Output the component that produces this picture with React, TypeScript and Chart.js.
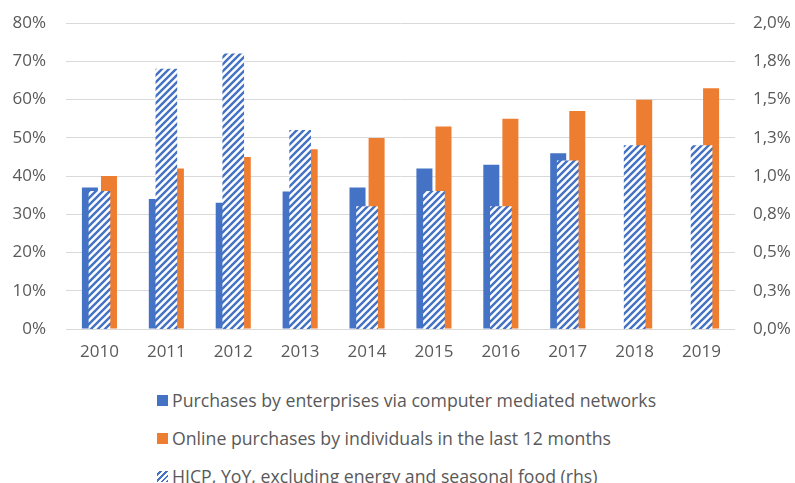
import React, { useEffect, useRef } from "react";
import { Chart, registerables } from "chart.js";

Chart.register(...registerables);

const years = ["2010", "2011", "2012", "2013", "2014", "2015", "2016", "2017", "2018", "2019"];
const enterprises = [37, 34, 33, 36, 37, 42, 43, 46, null, null];
const individuals = [40, 42, 45, 47, 50, 53, 55, 57, 60, 63];
const hicp = [0.9, 1.7, 1.8, 1.3, 0.8, 0.9, 0.8, 1.1, 1.2, 1.2];
const leftTickLabels = ["0%", "10%", "20%", "30%", "40%", "50%", "60%", "70%", "80%"];
const rightTickLabels = ["0,0%", "0,3%", "0,5%", "0,8%", "1,0%", "1,3%", "1,5%", "1,8%", "2,0%"];
const legendLabels = [
  "Purchases by enterprises via computer mediated networks",
  "Online purchases by individuals in the last 12 months",
  "HICP, YoY, excluding energy and seasonal food (rhs)",
];

const BLUE = "#4472C4";
const ORANGE = "#ED7D31";
const FONT = "'Open Sans', sans-serif";
const TEXT = "#595959";

function makePattern(): CanvasPattern | string {
  const c = document.createElement("canvas");
  const s = 7;
  c.width = s;
  c.height = s;
  const ctx = c.getContext("2d");
  if (!ctx) return BLUE;
  ctx.fillStyle = "#ffffff";
  ctx.fillRect(0, 0, s, s);
  ctx.strokeStyle = BLUE;
  ctx.lineWidth = 2.4;
  ctx.beginPath();
  ctx.moveTo(-s, 2 * s);
  ctx.lineTo(2 * s, -s);
  ctx.moveTo(-2 * s, 2 * s);
  ctx.lineTo(s, -s);
  ctx.moveTo(0, 2 * s);
  ctx.lineTo(3 * s, -s);
  ctx.stroke();
  const p = ctx.createPattern(c, "repeat");
  return p || BLUE;
}

export default function App() {
  const ref = useRef<HTMLCanvasElement | null>(null);

  useEffect(() => {
    if (!ref.current) return;
    const pattern = makePattern();
    const chart = new Chart(ref.current, {
      type: "bar",
      data: {
        labels: years,
        datasets: [
          {
            label: legendLabels[0],
            data: enterprises,
            backgroundColor: BLUE,
            yAxisID: "y",
            categoryPercentage: 0.57,
            barPercentage: 0.84,
            order: 2,
          },
          {
            label: legendLabels[1],
            data: individuals,
            backgroundColor: ORANGE,
            yAxisID: "y",
            categoryPercentage: 0.57,
            barPercentage: 0.84,
            order: 2,
          },
          {
            label: legendLabels[2],
            data: hicp,
            backgroundColor: pattern as any,
            yAxisID: "y1",
            grouped: false,
            barThickness: 21,
            order: 1,
          },
        ],
      },
      options: {
        animation: false,
        responsive: false,
        maintainAspectRatio: false,
        layout: { padding: { top: 16, bottom: 0, left: 0, right: 0 } },
        plugins: {
          legend: { display: false },
          tooltip: { enabled: false },
        },
        scales: {
          x: {
            grid: { display: false, drawTicks: false },
            border: { display: false },
            ticks: {
              color: TEXT,
              font: { family: FONT, size: 17 },
              padding: 13,
              maxRotation: 0,
            },
            afterFit: (s: any) => {
              s.height = 41;
            },
          },
          y: {
            position: "left",
            min: 0,
            max: 80,
            grid: { color: "#d9d9d9", drawTicks: false, lineWidth: 1 },
            border: { display: false },
            ticks: {
              stepSize: 10,
              color: TEXT,
              font: { family: FONT, size: 17 },
              padding: 20,
              callback: (v: any) => leftTickLabels[Math.round(Number(v) / 10)],
            },
            afterFit: (s: any) => {
              s.width = 66;
            },
          },
          y1: {
            position: "right",
            min: 0,
            max: 2,
            grid: { display: false, drawTicks: false },
            border: { display: false },
            ticks: {
              stepSize: 0.25,
              color: TEXT,
              font: { family: FONT, size: 17 },
              padding: 18,
              callback: (v: any) => rightTickLabels[Math.round(Number(v) / 0.25)],
            },
            afterFit: (s: any) => {
              s.width = 60;
            },
          },
        },
      },
    });
    return () => chart.destroy();
  }, []);

  const itemStyle: React.CSSProperties = {
    display: "flex",
    alignItems: "center",
    height: 38,
    whiteSpace: "nowrap",
  };
  const box = (bg: string): React.CSSProperties => ({
    display: "inline-block",
    width: 11,
    height: 11,
    marginRight: 4,
    background: bg,
  });

  return (
    <div
      style={{
        position: "fixed",
        left: 0,
        top: 0,
        width: 795,
        height: 483,
        overflow: "hidden",
        background: "#ffffff",
      }}
    >
      <canvas
        ref={ref}
        width={795}
        height={377}
        style={{ display: "block", position: "absolute", left: 0, top: -7 }}
      />
      <div
        style={{
          position: "absolute",
          left: 157,
          top: 381,
          fontFamily: FONT,
          fontSize: 17.7,
          color: TEXT,
        }}
      >
        <div style={itemStyle}>
          <span style={box(BLUE)} />
          {legendLabels[0]}
        </div>
        <div style={itemStyle}>
          <span style={box(ORANGE)} />
          {legendLabels[1]}
        </div>
        <div style={itemStyle}>
          <span
            style={box(
              `repeating-linear-gradient(135deg, #ffffff 0px, #ffffff 2px, ${BLUE} 2px, ${BLUE} 4px)`
            )}
          />
          {legendLabels[2]}
        </div>
      </div>
    </div>
  );
}
